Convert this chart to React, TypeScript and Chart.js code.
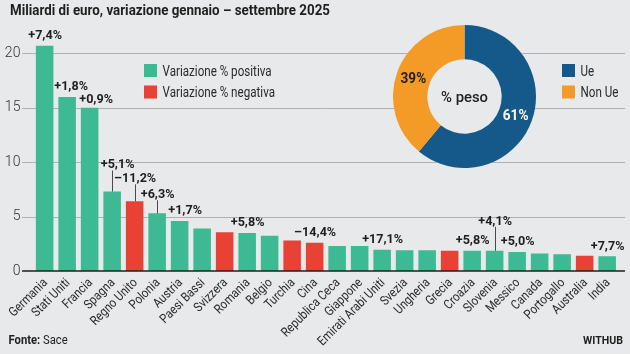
import { useEffect, useRef } from "react";
import { Chart, registerables } from "chart.js";

Chart.register(...registerables);

// ---------- data ----------
const countries = [
  "Germania", "Stati Uniti", "Francia", "Spagna", "Regno Unito", "Polonia",
  "Austria", "Paesi Bassi", "Svizzera", "Romania", "Belgio", "Turchia", "Cina",
  "Republica Ceca", "Giappone", "Emirati Arabi Uniti", "Svezia", "Ungheria",
  "Grecia", "Croazia", "Slovenia", "Messico", "Canada", "Portogallo",
  "Australia", "India",
];
const exportValues = [
  20.7, 16.0, 15.0, 7.3, 6.4, 5.3, 4.6, 3.9, 3.55, 3.5, 3.25, 2.8, 2.6,
  2.3, 2.3, 1.95, 1.9, 1.9, 1.85, 1.85, 1.85, 1.75, 1.6, 1.55, 1.4, 1.35,
];
const changeLabels = [
  "+7,4%", "+1,8%", "+0,9%", "+5,1%", "–11,2%", "+6,3%", "+1,7%", "", "",
  "+5,8%", "", "", "–14,4%", "", "", "+17,1%", "", "", "", "+5,8%", "+4,1%",
  "+5,0%", "", "", "", "+7,7%",
];
const isNegative = [
  false, false, false, false, true, false, false, false, true, false, false,
  true, true, false, false, false, false, false, true, false, false, false,
  false, false, true, false,
];
const yTicks = [0, 5, 10, 15, 20];
const legendLabels = ["Variazione % positiva", "Variazione % negativa"];
const shareLabels = ["Ue", "Non Ue"];
const shareValues = [61, 39];
const shareCenter = "% peso";
const titleText = "Miliardi di euro, variazione gennaio – settembre 2025";
const sourceBold = "Fonte:";
const sourceText = " Sace";
const brandText = "WITHUB";

// ---------- styles ----------
const BG = "#e7e9ea";
const GREEN = "#3dba93";
const RED = "#e84136";
const BLUE = "#15598b";
const ORANGE = "#f39a27";
const INK = "#1f1f1f";
const GRID = "#aeb1b3";
const FONT = "Roboto, 'Noto Sans', sans-serif";

// label placement tweaks (px): lift above bar top, horizontal nudge, leader lines
const labelLift: Record<number, number> = { 2: 9, 3: 28, 4: 24, 5: 20, 20: 31 };
const labelNudge: Record<number, number> = { 1: 4, 2: 6.5, 3: 5.5, 6: 5.5 };
const leaderBars = new Set([3, 4, 5, 20]);

type TOpt = {
  font: string;
  color: string;
  align?: CanvasTextAlign;
  baseline?: CanvasTextBaseline;
  sx?: number;
  width?: number;
  rot?: number;
};

function drawText(ctx: CanvasRenderingContext2D, s: string, x: number, y: number, o: TOpt) {
  ctx.save();
  ctx.font = o.font;
  ctx.fillStyle = o.color;
  ctx.textAlign = o.align ?? "left";
  ctx.textBaseline = o.baseline ?? "alphabetic";
  let sx = o.sx ?? 1;
  const w = ctx.measureText(s).width;
  if (o.width) sx = o.width / w;
  ctx.translate(x, y);
  if (o.rot) ctx.rotate(o.rot);
  ctx.scale(sx, 1);
  ctx.fillText(s, 0, 0);
  ctx.restore();
  return w * sx;
}

const barDecor = {
  id: "barDecor",
  beforeDatasetsDraw(chart: any) {
    const ctx: CanvasRenderingContext2D = chart.ctx;
    const y = chart.scales.y;
    ctx.save();
    ctx.strokeStyle = GRID;
    ctx.lineWidth = 1;
    for (const t of yTicks) {
      if (t === 0) continue;
      const py = Math.round(y.getPixelForValue(t)) + 0.5;
      ctx.beginPath();
      ctx.moveTo(22, py);
      ctx.lineTo(625, py);
      ctx.stroke();
    }
    ctx.restore();
  },
  afterDatasetsDraw(chart: any) {
    const ctx: CanvasRenderingContext2D = chart.ctx;
    const y = chart.scales.y;
    const meta = chart.getDatasetMeta(0);

    // zero line
    const y0 = y.getPixelForValue(0);
    ctx.save();
    ctx.strokeStyle = INK;
    ctx.lineWidth = 1.6;
    ctx.beginPath();
    ctx.moveTo(22, y0);
    ctx.lineTo(625, y0);
    ctx.stroke();
    ctx.restore();

    // value-change labels
    meta.data.forEach((bar: any, i: number) => {
      const s = changeLabels[i];
      if (!s) return;
      const lift = labelLift[i] ?? 11.5;
      const nudge = labelNudge[i] ?? 0.5;
      const cy = bar.y - lift;
      if (leaderBars.has(i)) {
        ctx.save();
        ctx.strokeStyle = "#4a4a4a";
        ctx.lineWidth = 1;
        ctx.beginPath();
        ctx.moveTo(Math.round(bar.x) + 0.5, bar.y);
        ctx.lineTo(Math.round(bar.x) + 0.5, cy + 7);
        ctx.stroke();
        ctx.restore();
      }
      drawText(ctx, s, bar.x + nudge, cy + 4.7, {
        font: `bold 13px ${FONT}`,
        color: INK,
        align: "center",
        sx: 0.97,
      });
    });

    // category labels (rotated, condensed)
    meta.data.forEach((bar: any, i: number) => {
      drawText(ctx, countries[i], bar.x + 1, y0 + 10, {
        font: `13px ${FONT}`,
        color: "#2a2a2a",
        align: "right",
        baseline: "middle",
        sx: 0.86,
        rot: -Math.PI / 4,
      });
    });

    // bar legend
    const rows = [70.5, 92];
    [GREEN, RED].forEach((c, k) => {
      ctx.fillStyle = c;
      ctx.fillRect(144, rows[k] - 6.5, 13, 13);
      drawText(ctx, legendLabels[k], 162.5, rows[k] + 5, {
        font: `14px ${FONT}`,
        color: "#2a2a2a",
        sx: 0.83,
      });
    });

    // doughnut legend
    [BLUE, ORANGE].forEach((c, k) => {
      ctx.fillStyle = c;
      ctx.fillRect(562, rows[k] - 6.5, 13, 13);
      drawText(ctx, shareLabels[k], 580.5, rows[k] + 5, {
        font: `14px ${FONT}`,
        color: "#2a2a2a",
        sx: 0.83,
      });
    });

    // title
    drawText(ctx, titleText, 10, 14.5, {
      font: `bold 14px ${FONT}`,
      color: INK,
      width: 320,
    });

    // footer
    const wB = drawText(ctx, sourceBold, 8.5, 344, {
      font: `bold 12.5px ${FONT}`,
      color: INK,
      sx: 0.9,
    });
    drawText(ctx, sourceText, 8.5 + wB, 344, {
      font: `12.5px ${FONT}`,
      color: INK,
      sx: 0.9,
    });
    drawText(ctx, brandText, 623, 344, {
      font: `bold 11.5px ${FONT}`,
      color: INK,
      align: "right",
      width: 40,
    });
  },
};

const pieDecor = {
  id: "pieDecor",
  beforeDatasetsDraw(chart: any) {
    const ctx: CanvasRenderingContext2D = chart.ctx;
    const arc = chart.getDatasetMeta(0).data[0];
    if (!arc) return;
    ctx.save();
    ctx.fillStyle = BG;
    ctx.beginPath();
    ctx.arc(arc.x, arc.y, arc.outerRadius, 0, Math.PI * 2);
    ctx.fill();
    ctx.restore();
  },
  afterDatasetsDraw(chart: any) {
    const ctx: CanvasRenderingContext2D = chart.ctx;
    const arcs = chart.getDatasetMeta(0).data;
    if (!arcs.length) return;
    const a0 = arcs[0];
    drawText(ctx, shareCenter, a0.x, a0.y + 5.5, {
      font: `500 15.5px ${FONT}`,
      color: INK,
      align: "center",
      width: 47,
    });
    arcs.forEach((arc: any, i: number) => {
      const p = arc.getCenterPoint();
      drawText(ctx, `${shareValues[i]}%`, p.x, p.y + 5, {
        font: `bold 14px ${FONT}`,
        color: i === 0 ? "#ffffff" : INK,
        align: "center",
        sx: 0.97,
      });
    });
  },
};

export default function App() {
  const barRef = useRef<HTMLCanvasElement>(null);
  const pieRef = useRef<HTMLCanvasElement>(null);

  useEffect(() => {
    if (!barRef.current || !pieRef.current) return;
    const bar = new Chart(barRef.current, {
      type: "bar",
      data: {
        labels: countries,
        datasets: [
          {
            data: exportValues,
            backgroundColor: isNegative.map((n) => (n ? RED : GREEN)),
            borderWidth: 0,
            barPercentage: 0.78,
            categoryPercentage: 1,
          },
        ],
      },
      options: {
        animation: false,
        responsive: false,
        maintainAspectRatio: false,
        layout: { padding: { left: 0, right: 11.6, top: 31.6, bottom: 0 } },
        plugins: { legend: { display: false }, tooltip: { enabled: false }, title: { display: false } },
        scales: {
          x: {
            grid: { display: false },
            border: { display: false },
            ticks: { display: false },
            afterFit: (s: any) => {
              s.height = 83;
            },
          },
          y: {
            min: 0,
            max: 22,
            grid: { display: false, drawTicks: false },
            border: { display: false },
            ticks: {
              stepSize: 5,
              includeBounds: false,
              padding: 13,
              color: "#333",
              font: { family: FONT, size: 14, weight: "300" as any },
            },
            afterFit: (s: any) => {
              s.width = 33.4;
            },
          },
        },
      },
      plugins: [barDecor],
    });

    const pie = new Chart(pieRef.current, {
      type: "doughnut",
      data: {
        labels: shareLabels,
        datasets: [
          {
            data: shareValues,
            backgroundColor: [BLUE, ORANGE],
            borderWidth: 0,
          },
        ],
      },
      options: {
        animation: false,
        responsive: false,
        maintainAspectRatio: false,
        cutout: "52%",
        layout: { padding: 0 },
        plugins: { legend: { display: false }, tooltip: { enabled: false } },
      },
      plugins: [pieDecor],
    });

    return () => {
      bar.destroy();
      pie.destroy();
    };
  }, []);

  return (
    <div
      style={{
        position: "absolute",
        left: 0,
        top: 0,
        width: 630,
        height: 354,
        background: BG,
        overflow: "hidden",
      }}
    >
      <canvas
        ref={barRef}
        width={630}
        height={354}
        style={{ position: "absolute", left: 0, top: 0, width: 630, height: 354 }}
      />
      <canvas
        ref={pieRef}
        width={143}
        height={143}
        style={{ position: "absolute", left: 393, top: 25, width: 143, height: 143 }}
      />
    </div>
  );
}
